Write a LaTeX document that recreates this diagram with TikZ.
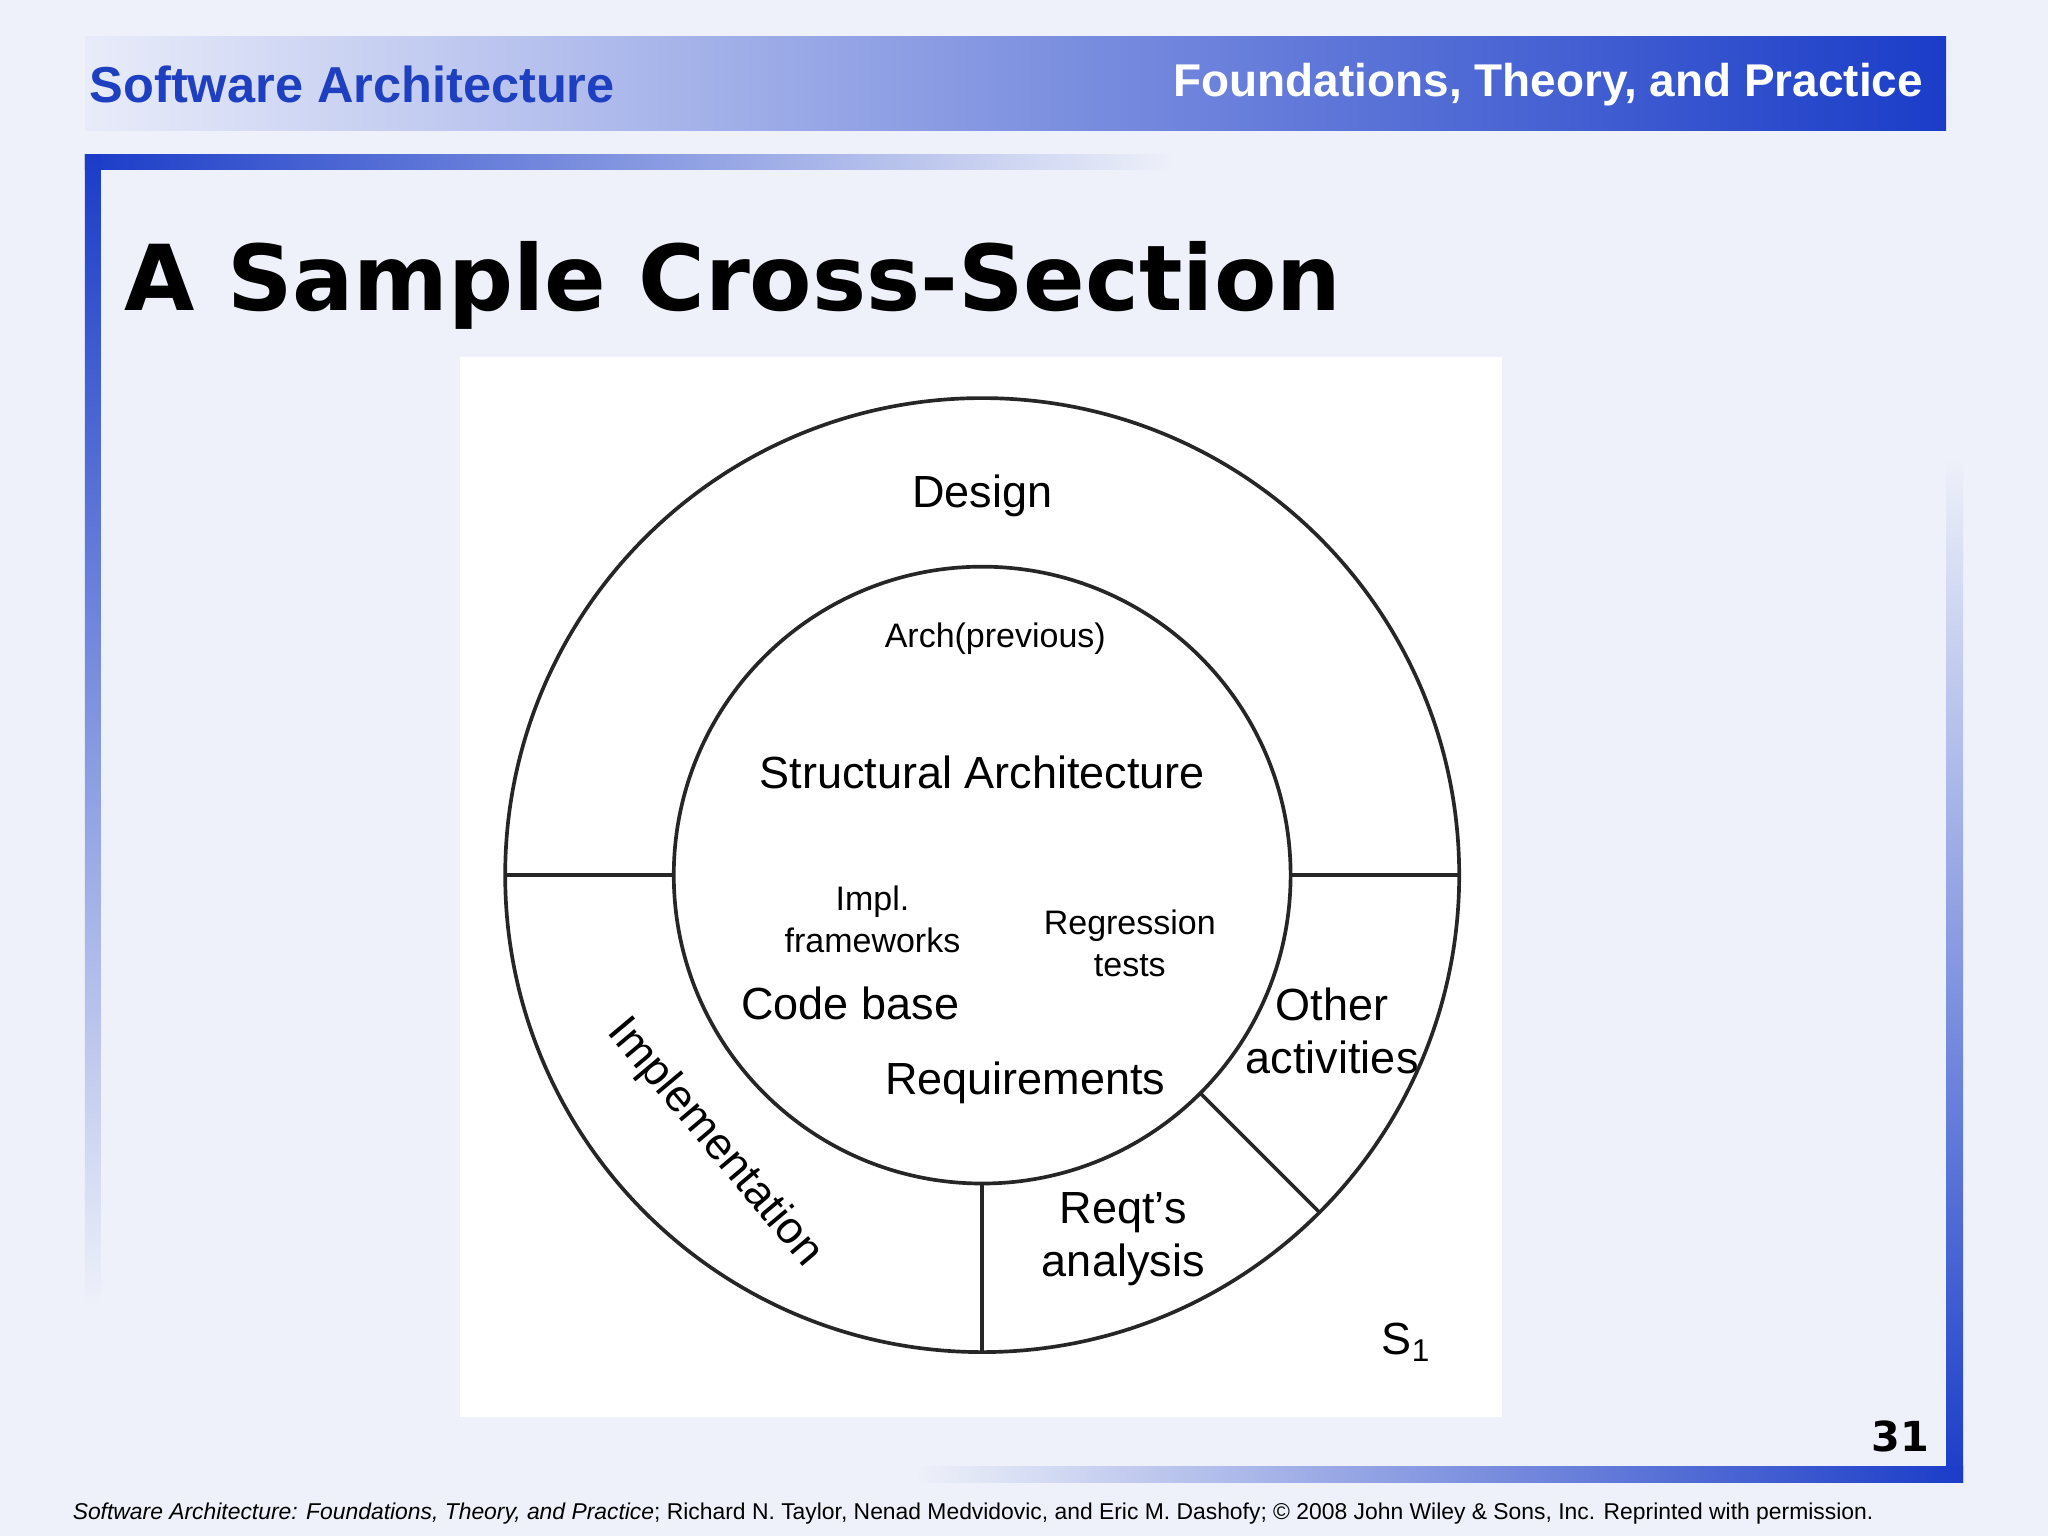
\documentclass[tikz,border=0pt]{standalone}
\usepackage{fontspec}
\setmainfont{Liberation Sans}
\newfontfamily\verd{DejaVu Sans}
\definecolor{hblue}{HTML}{1A3CC8}
\definecolor{tblue}{HTML}{1E3FC0}
\definecolor{bg}{HTML}{EEF1F9}
\begin{document}
\begin{tikzpicture}[x=0.01cm,y=-0.01cm,
  lab/.style={font=\fontsize{9.8}{11.5}\selectfont,align=center,inner sep=0pt},
  sm/.style={font=\fontsize{7.4}{9.2}\selectfont,align=center,inner sep=0pt},
  ln/.style={line width=0.8pt,black!85}]
\fill[bg] (0,0) rectangle (1568,1176);
\useasboundingbox (0,0) rectangle (1568,1176);
% header
\shade[left color=white!90!hblue,right color=hblue] (65,28) rectangle (1490,100);
\node[anchor=west,inner sep=0pt,text=tblue,font=\bfseries\fontsize{11}{13}\selectfont] (ht) at (68,65) {Software Architecture};
\node[anchor=east,inner sep=0pt,text=white,font=\bfseries\fontsize{10}{12}\selectfont] (hr) at (1473,65) {Foundations, Theory, and Practice};
% frame
\shade[left color=hblue,right color=bg] (65,118) rectangle (900,130);
\shade[top color=hblue,bottom color=bg] (65,118) rectangle (77,1000);
\shade[top color=bg,bottom color=hblue] (1490,350) rectangle (1503,1135);
\shade[left color=bg,right color=hblue] (700,1123) rectangle (1503,1135);
\node[anchor=base west,inner sep=0pt,font=\verd\bfseries\fontsize{19.8}{22}\selectfont] (title) at (95,238) {A Sample Cross-Section};
% diagram box
\fill[white] (352,273) rectangle (1150,1085);
\coordinate (c) at (752,670);
\draw[ln] (c) circle[radius=3.65cm];
\draw[ln] (c) circle[radius=2.36cm];
\coordinate (l1) at (387,670); \coordinate (l2) at (516,670);
\coordinate (r1) at (988,670); \coordinate (r2) at (1117,670);
\coordinate (b1) at (752,906); \coordinate (b2) at (752,1035);
\coordinate (d1) at (919,837); \coordinate (d2) at (1010,928);
\draw[ln] (l1)--(l2); \draw[ln] (r1)--(r2); \draw[ln] (b1)--(b2); \draw[ln] (d1)--(d2);
\node[lab] (design) at (752,380) {Design};
\node[sm] (arch) at (762,489) {Arch(previous)};
\node[lab] (sa) at (752,591) {Structural Architecture};
\node[sm] (impl) at (668,704) {Impl.\\frameworks};
\node[sm] (reg) at (865,722) {Regression\\tests};
\node[lab] (cb) at (651,768) {Code base};
\node[lab] (req) at (785,829) {Requirements};
\node[lab] (oa) at (1020,789) {Other\\activities};
\node[lab] (ra) at (860,949) {Reqt's\\analysis};
\node[lab,rotate=-50] (im) at (547,875) {Implementation};
\node[lab] (s1) at (1077,1028) {S\textsubscript{1}};
\node[font=\verd\bfseries\fontsize{9}{11}\selectfont] (pg) at (1455,1100) {31};
\node[anchor=base west,inner sep=0pt,font=\fontsize{4.98}{6}\selectfont] (foot) at (55,1163) {\textit{Software Architecture: Foundations, Theory, and Practice}; Richard N. Taylor, Nenad Medvidovic, and Eric M. Dashofy; \textcopyright{} 2008 John Wiley \& Sons, Inc. Reprinted with permission.};
\end{tikzpicture}
\end{document}
